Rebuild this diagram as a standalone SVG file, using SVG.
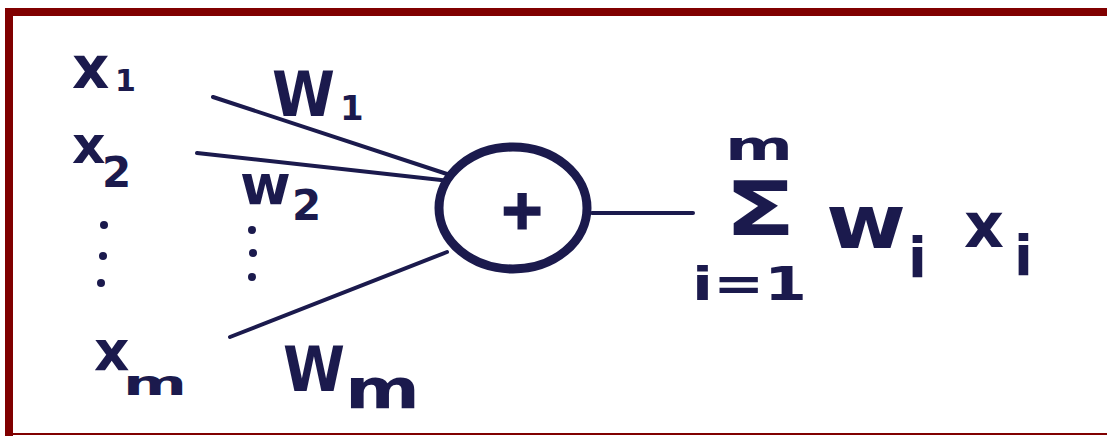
<svg xmlns="http://www.w3.org/2000/svg" width="1107" height="436" viewBox="0 0 1107 436">
<style>
.t{font-family:"DejaVu Sans","Liberation Sans",sans-serif;font-weight:bold;fill:#1b1a4d}
.ln{stroke:#1b1a4d;stroke-width:4;stroke-linecap:round;fill:none}
.dot{fill:#1b1a4d}
.frame{fill:#800000}
</style>
<rect width="1107" height="436" fill="#ffffff"/>
<g id="frame">
<rect class="frame" x="5" y="8" width="1102" height="8"/>
<rect class="frame" x="5" y="8" width="8" height="428"/>
<rect class="frame" x="5" y="433" width="1102" height="2"/>
</g>
<g id="connectors">
<line class="ln" x1="213" y1="97" x2="450" y2="175"/>
<line class="ln" x1="197" y1="153" x2="450" y2="181"/>
<line class="ln" x1="230" y1="337" x2="447" y2="252"/>
<line class="ln" x1="592" y1="213" x2="693" y2="213"/>
</g>
<g id="input-x1">
<text class="t" x="72" y="88" font-size="58">x</text>
<text class="t" x="115" y="91" font-size="30">1</text>
</g>
<g id="input-x2">
<text class="t" x="72" y="163" font-size="52">x</text>
<text class="t" x="102" y="187" font-size="42">2</text>
</g>
<g id="input-dots">
<circle class="dot" cx="104" cy="225" r="4"/>
<circle class="dot" cx="103" cy="256" r="4"/>
<circle class="dot" cx="101" cy="283" r="4"/>
</g>
<g id="input-xm">
<text class="t" x="94" y="370" font-size="55">x</text>
<text class="t" x="123" y="395" font-size="34" textLength="64" lengthAdjust="spacingAndGlyphs">m</text>
</g>
<g id="weight-w1">
<text class="t" x="272" y="116" font-size="62" textLength="63" lengthAdjust="spacingAndGlyphs">W</text>
<text class="t" x="340" y="120" font-size="34">1</text>
</g>
<g id="weight-w2">
<text class="t" x="240" y="204" font-size="55">w</text>
<text class="t" x="292" y="220" font-size="42">2</text>
</g>
<g id="weight-dots">
<circle class="dot" cx="252" cy="230" r="4"/>
<circle class="dot" cx="253" cy="253" r="4"/>
<circle class="dot" cx="252" cy="277" r="4"/>
</g>
<g id="weight-wm">
<text class="t" x="283" y="391" font-size="62" textLength="62" lengthAdjust="spacingAndGlyphs">W</text>
<text class="t" x="345" y="408" font-size="55" textLength="75" lengthAdjust="spacingAndGlyphs">m</text>
</g>
<g id="neuron">
<ellipse cx="513" cy="208" rx="74" ry="61" fill="#ffffff" stroke="#1b1a4d" stroke-width="9"/>
<text class="t" x="522" y="228" font-size="54" text-anchor="middle" stroke="#1b1a4d" stroke-width="3">+</text>
</g>
<g id="output">
<text class="t" x="725" y="160" font-size="40" textLength="68" lengthAdjust="spacingAndGlyphs">m</text>
<text class="t" x="724" y="235" font-size="75" textLength="72" lengthAdjust="spacingAndGlyphs">Σ</text>
<text class="t" x="692" y="300" font-size="46" textLength="115" lengthAdjust="spacingAndGlyphs">i=1</text>
<text class="t" x="826" y="248" font-size="75" textLength="80" lengthAdjust="spacingAndGlyphs">w</text>
<text class="t" x="908" y="277" font-size="55">i</text>
<text class="t" x="964" y="247" font-size="62">x</text>
<text class="t" x="1014" y="275" font-size="55">i</text>
</g>
</svg>
